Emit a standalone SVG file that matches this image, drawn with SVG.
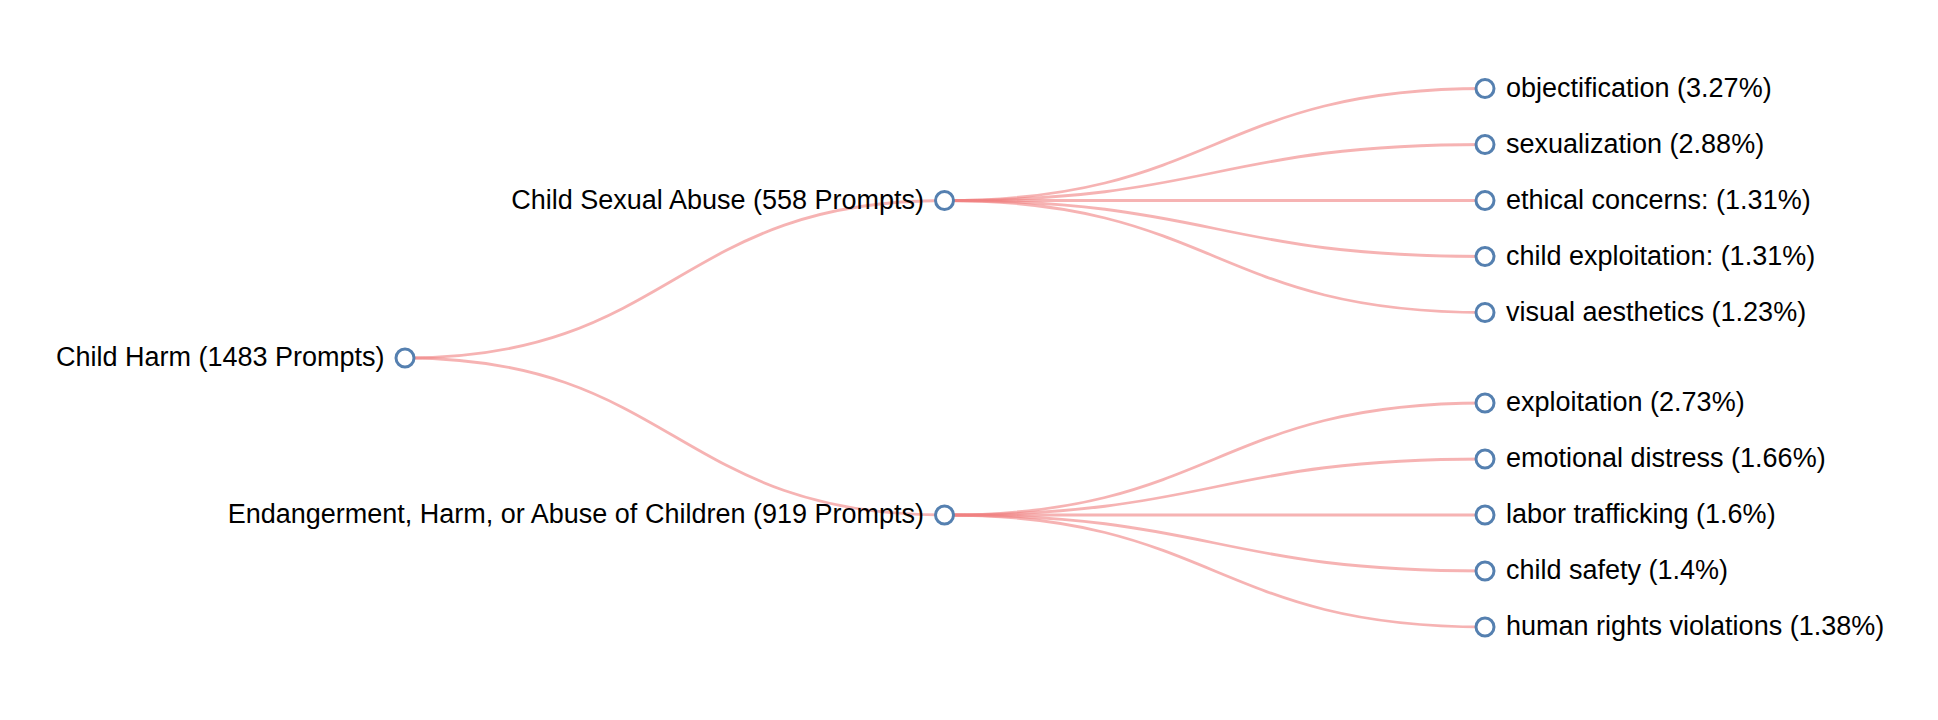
<svg xmlns="http://www.w3.org/2000/svg" width="1938" height="720" viewBox="0 0 1938 720">
<style>
.link{fill:none;stroke:lightcoral;stroke-opacity:0.6;stroke-width:2.8}
.node circle{fill:#fff;stroke:#5580b0;stroke-width:3}
.node text{font-family:"Liberation Sans",Arial,Helvetica,sans-serif;font-size:27px;fill:#000}
.l{text-anchor:end}
</style>
<rect width="1938" height="720" fill="#fff"/>
<g id="links">
<path class="link" d="M405,358C674.75,358 674.75,200.5 944.5,200.5"/>
<path class="link" d="M405,358C674.75,358 674.75,515 944.5,515"/>
<path class="link" d="M944.5,200.5C1214.75,200.5 1214.75,88.5 1485,88.5"/>
<path class="link" d="M944.5,200.5C1214.75,200.5 1214.75,144.5 1485,144.5"/>
<path class="link" d="M944.5,200.5C1214.75,200.5 1214.75,200.5 1485,200.5"/>
<path class="link" d="M944.5,200.5C1214.75,200.5 1214.75,256.5 1485,256.5"/>
<path class="link" d="M944.5,200.5C1214.75,200.5 1214.75,312.5 1485,312.5"/>
<path class="link" d="M944.5,515C1214.75,515 1214.75,403 1485,403"/>
<path class="link" d="M944.5,515C1214.75,515 1214.75,459 1485,459"/>
<path class="link" d="M944.5,515C1214.75,515 1214.75,515 1485,515"/>
<path class="link" d="M944.5,515C1214.75,515 1214.75,571 1485,571"/>
<path class="link" d="M944.5,515C1214.75,515 1214.75,627 1485,627"/>
</g>
<g id="n-root" class="node" transform="translate(405,358)"><circle r="9"/><text class="l" x="-20.5" dy="0.31em">Child Harm (1483 Prompts)</text></g>
<g id="n-csa" class="node" transform="translate(944.5,200.5)"><circle r="9"/><text class="l" x="-20.5" dy="0.31em">Child Sexual Abuse (558 Prompts)</text></g>
<g id="n-eha" class="node" transform="translate(944.5,515)"><circle r="9"/><text class="l" x="-20.5" dy="0.31em">Endangerment, Harm, or Abuse of Children (919 Prompts)</text></g>
<g id="n-obj" class="node" transform="translate(1485,88.5)"><circle r="9"/><text x="21" dy="0.31em">objectification (3.27%)</text></g>
<g id="n-sex" class="node" transform="translate(1485,144.5)"><circle r="9"/><text x="21" dy="0.31em">sexualization (2.88%)</text></g>
<g id="n-eth" class="node" transform="translate(1485,200.5)"><circle r="9"/><text x="21" dy="0.31em">ethical concerns: (1.31%)</text></g>
<g id="n-cex" class="node" transform="translate(1485,256.5)"><circle r="9"/><text x="21" dy="0.31em">child exploitation: (1.31%)</text></g>
<g id="n-vis" class="node" transform="translate(1485,312.5)"><circle r="9"/><text x="21" dy="0.31em">visual aesthetics (1.23%)</text></g>
<g id="n-exp" class="node" transform="translate(1485,403)"><circle r="9"/><text x="21" dy="0.31em">exploitation (2.73%)</text></g>
<g id="n-emo" class="node" transform="translate(1485,459)"><circle r="9"/><text x="21" dy="0.31em">emotional distress (1.66%)</text></g>
<g id="n-lab" class="node" transform="translate(1485,515)"><circle r="9"/><text x="21" dy="0.31em">labor trafficking (1.6%)</text></g>
<g id="n-saf" class="node" transform="translate(1485,571)"><circle r="9"/><text x="21" dy="0.31em">child safety (1.4%)</text></g>
<g id="n-hum" class="node" transform="translate(1485,627)"><circle r="9"/><text x="21" dy="0.31em">human rights violations (1.38%)</text></g>
</svg>
